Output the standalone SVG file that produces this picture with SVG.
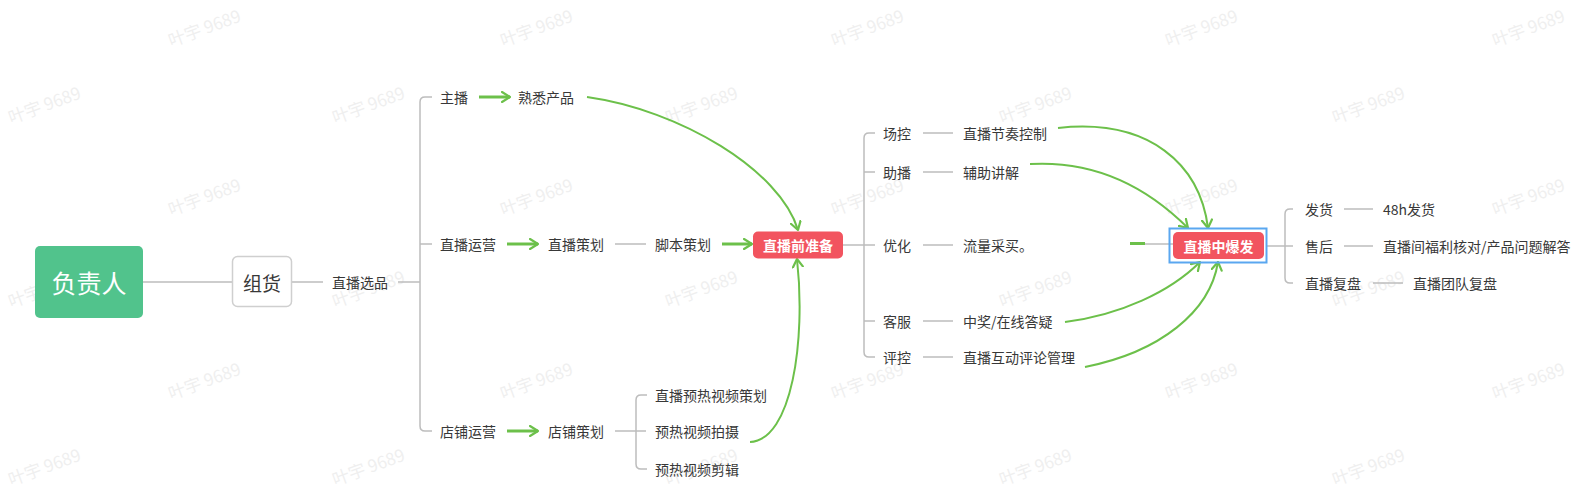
<svg xmlns="http://www.w3.org/2000/svg" width="1582" height="490" viewBox="0 0 1582 490">
<style>
.t{font-family:"Noto Sans CJK SC","Noto Sans",sans-serif;font-size:14px;fill:#383838;dominant-baseline:central}
.wm{font-family:"Noto Sans CJK SC","Noto Sans",sans-serif;font-size:17px;fill:#efefef;text-anchor:middle;dominant-baseline:central}
.g{fill:none;stroke:#bdbdbd;stroke-width:1.5}
.a{fill:none;stroke:#6cc04a;stroke-width:2;marker-end:url(#ah)}
.as{fill:none;stroke:#6cc04a;stroke-width:3;marker-end:url(#ah)}
.wt{font-family:"Noto Sans CJK SC","Noto Sans",sans-serif;fill:#fff;text-anchor:middle;dominant-baseline:central}
</style>
<defs>
<marker id="ah" viewBox="0 0 10 12" refX="9" refY="6" markerWidth="10" markerHeight="12" markerUnits="userSpaceOnUse" orient="auto">
<path d="M1,1 L9,6 L1,11" fill="none" stroke="#6cc04a" stroke-width="2.2" stroke-linecap="round" stroke-linejoin="round"/>
</marker>
</defs>
<rect width="1582" height="490" fill="#fff"/>
<g id="watermark">
<text class="wm" x="204" y="27" transform="rotate(-20 204 27)">叶宇 9689</text>
<text class="wm" x="536" y="27" transform="rotate(-20 536 27)">叶宇 9689</text>
<text class="wm" x="867" y="27" transform="rotate(-20 867 27)">叶宇 9689</text>
<text class="wm" x="1201" y="27" transform="rotate(-20 1201 27)">叶宇 9689</text>
<text class="wm" x="1528" y="27" transform="rotate(-20 1528 27)">叶宇 9689</text>
<text class="wm" x="44" y="104" transform="rotate(-20 44 104)">叶宇 9689</text>
<text class="wm" x="368" y="104" transform="rotate(-20 368 104)">叶宇 9689</text>
<text class="wm" x="701" y="104" transform="rotate(-20 701 104)">叶宇 9689</text>
<text class="wm" x="1035" y="104" transform="rotate(-20 1035 104)">叶宇 9689</text>
<text class="wm" x="1368" y="104" transform="rotate(-20 1368 104)">叶宇 9689</text>
<text class="wm" x="204" y="196" transform="rotate(-20 204 196)">叶宇 9689</text>
<text class="wm" x="536" y="196" transform="rotate(-20 536 196)">叶宇 9689</text>
<text class="wm" x="867" y="196" transform="rotate(-20 867 196)">叶宇 9689</text>
<text class="wm" x="1201" y="196" transform="rotate(-20 1201 196)">叶宇 9689</text>
<text class="wm" x="1528" y="196" transform="rotate(-20 1528 196)">叶宇 9689</text>
<text class="wm" x="44" y="288" transform="rotate(-20 44 288)">叶宇 9689</text>
<text class="wm" x="368" y="288" transform="rotate(-20 368 288)">叶宇 9689</text>
<text class="wm" x="701" y="288" transform="rotate(-20 701 288)">叶宇 9689</text>
<text class="wm" x="1035" y="288" transform="rotate(-20 1035 288)">叶宇 9689</text>
<text class="wm" x="1368" y="288" transform="rotate(-20 1368 288)">叶宇 9689</text>
<text class="wm" x="204" y="380" transform="rotate(-20 204 380)">叶宇 9689</text>
<text class="wm" x="536" y="380" transform="rotate(-20 536 380)">叶宇 9689</text>
<text class="wm" x="867" y="380" transform="rotate(-20 867 380)">叶宇 9689</text>
<text class="wm" x="1201" y="380" transform="rotate(-20 1201 380)">叶宇 9689</text>
<text class="wm" x="1528" y="380" transform="rotate(-20 1528 380)">叶宇 9689</text>
<text class="wm" x="44" y="466" transform="rotate(-20 44 466)">叶宇 9689</text>
<text class="wm" x="368" y="466" transform="rotate(-20 368 466)">叶宇 9689</text>
<text class="wm" x="701" y="466" transform="rotate(-20 701 466)">叶宇 9689</text>
<text class="wm" x="1035" y="466" transform="rotate(-20 1035 466)">叶宇 9689</text>
<text class="wm" x="1368" y="466" transform="rotate(-20 1368 466)">叶宇 9689</text>
</g>
<g id="connectors">
<path class="g" d="M143,282 H232" stroke-width="2"/>
<path class="g" d="M292,282 H323"/>
<path class="g" d="M398,282 H420"/>
<path class="g" d="M432,97 H425 Q420,97 420,102 V426 Q420,431 425,431 H432 M420,244 H432"/>
<path class="g" d="M615,244 H646"/>
<path class="g" d="M615,431 H646 M647,395 H641 Q636,395 636,400 V464 Q636,469 641,469 H647"/>
<path class="g" d="M843,245 H875 M875,133 H869 Q864,133 864,138 V352 Q864,357 869,357 H875 M864,172 H875 M864,321 H875"/>
<path class="g" d="M923,133 H953 M923,172 H953 M923,245 H953 M923,321 H953 M923,357 H953"/>
<path class="g" d="M1145,244 H1173"/>
<path class="g" d="M1266,246 H1293 M1293,209 H1290 Q1285,209 1285,214 V278 Q1285,283 1290,283 H1293"/>
<path class="g" d="M1344,209 H1373 M1344,246 H1373 M1373,283 H1403"/>
<path class="as" d="M479,97 H510"/>
<path class="as" d="M507,244 H538"/>
<path class="as" d="M722,244 H752"/>
<path class="as" d="M507,431 H538"/>
<path class="a" d="M587,97 C680,110 780,170 798,230"/>
<path class="a" d="M750,442 C792,440 806,340 797,259"/>
<path class="a" d="M1058,128 C1150,118 1200,165 1208,228"/>
<path class="a" d="M1030,164 C1100,160 1150,190 1188,228"/>
<path d="M1130,243.5 H1145" fill="none" stroke="#6cc04a" stroke-width="3"/>
<path class="a" d="M1065,322 C1120,315 1170,292 1200,262"/>
<path class="a" d="M1085,367 C1160,352 1210,312 1218,262"/>
</g>
<g id="n-fuzeren"><rect x="35" y="246" width="108" height="72" rx="5" fill="#51c38c"/><text class="wt" x="89" y="282" font-size="25">负责人</text></g>
<g id="n-zuhuo"><rect x="232.5" y="256.5" width="59" height="50" rx="5" fill="#fff" stroke="#cfcfcf" stroke-width="1.5"/><text class="t" x="262" y="282" text-anchor="middle" style="font-size:19px">组货</text></g>
<g id="n-xuanpin"><text class="t" x="332" y="282">直播选品</text></g>
<g id="n-zhubo"><text class="t" x="440" y="97">主播</text></g>
<g id="n-shuxi"><text class="t" x="518" y="97">熟悉产品</text></g>
<g id="n-yunying"><text class="t" x="440" y="244">直播运营</text></g>
<g id="n-cehua"><text class="t" x="548" y="244">直播策划</text></g>
<g id="n-jiaoben"><text class="t" x="655" y="244">脚本策划</text></g>
<g id="n-dianpu"><text class="t" x="440" y="431">店铺运营</text></g>
<g id="n-dpcehua"><text class="t" x="548" y="431">店铺策划</text></g>
<g id="n-yure1"><text class="t" x="655" y="395">直播预热视频策划</text></g>
<g id="n-yure2"><text class="t" x="655" y="431">预热视频拍摄</text></g>
<g id="n-yure3"><text class="t" x="655" y="469">预热视频剪辑</text></g>
<g id="n-qian"><rect x="753" y="231.5" width="90" height="27" rx="5" fill="#f2545f"/><text class="wt" x="798" y="245" font-size="14" font-weight="bold">直播前准备</text></g>
<g id="n-changkong"><text class="t" x="883" y="133">场控</text></g>
<g id="n-zhubo2"><text class="t" x="883" y="172">助播</text></g>
<g id="n-youhua"><text class="t" x="883" y="245">优化</text></g>
<g id="n-kefu"><text class="t" x="883" y="321">客服</text></g>
<g id="n-pingkong"><text class="t" x="883" y="357">评控</text></g>
<g id="n-jiezou"><text class="t" x="963" y="133">直播节奏控制</text></g>
<g id="n-fuzhu"><text class="t" x="963" y="172">辅助讲解</text></g>
<g id="n-liuliang"><text class="t" x="963" y="245">流量采买。</text></g>
<g id="n-zhongjiang"><text class="t" x="963" y="321">中奖/在线答疑</text></g>
<g id="n-hudong"><text class="t" x="963" y="357">直播互动评论管理</text></g>
<g id="n-zhong"><rect x="1169.5" y="228.5" width="97" height="34" fill="none" stroke="#5aa7f0" stroke-width="2"/><rect x="1173" y="232" width="91" height="27" rx="5" fill="#f2545f"/><text class="wt" x="1218.5" y="245.5" font-size="14" font-weight="bold">直播中爆发</text></g>
<g id="n-fahuo"><text class="t" x="1305" y="209">发货</text></g>
<g id="n-shouhou"><text class="t" x="1305" y="246">售后</text></g>
<g id="n-fupan"><text class="t" x="1305" y="283">直播复盘</text></g>
<g id="n-48h"><text class="t" x="1383" y="209">48h发货</text></g>
<g id="n-fuli"><text class="t" x="1383" y="246">直播间福利核对/产品问题解答</text></g>
<g id="n-tuandui"><text class="t" x="1413" y="283">直播团队复盘</text></g>
</svg>
